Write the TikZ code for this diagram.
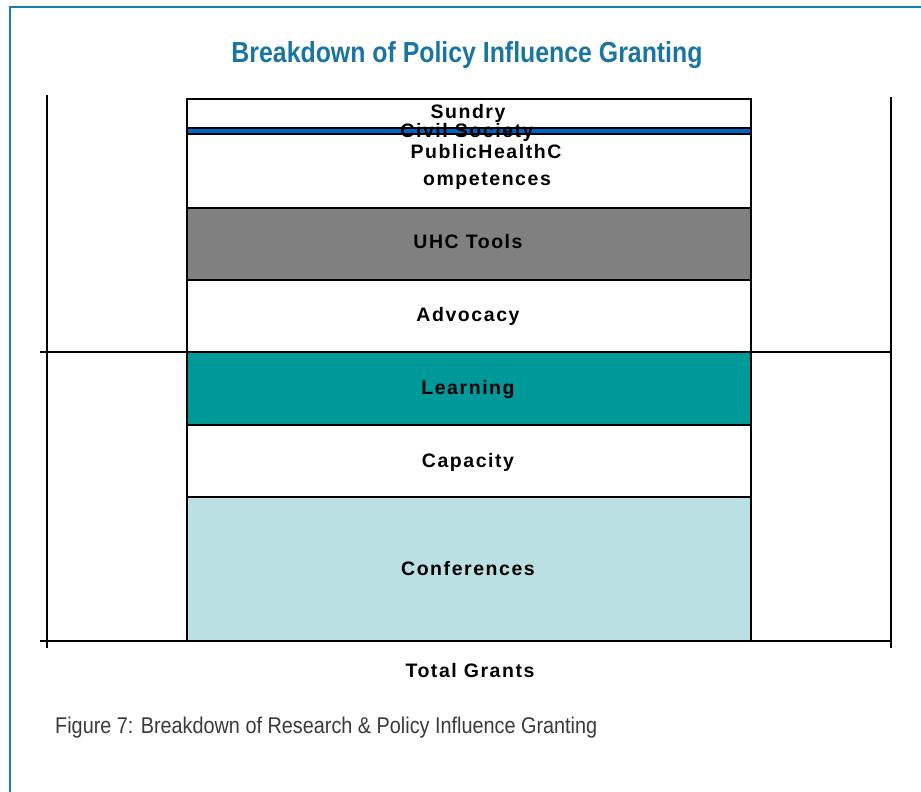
\documentclass[tikz,border=0pt]{standalone}
\usepackage{fontspec}
\setmainfont{Liberation Sans}
\newfontfamily\barfont[LetterSpace=8]{Liberation Sans}
\usepackage{xcolor}
\usetikzlibrary{positioning}

\definecolor{frameblue}{HTML}{1A7FAE}
\definecolor{titleblue}{HTML}{1A75A3}
\definecolor{civilblue}{HTML}{0063C6}
\definecolor{uhcgray}{HTML}{808080}
\definecolor{learnteal}{HTML}{009999}
\definecolor{confblue}{HTML}{BBE0E3}
\definecolor{capgray}{HTML}{3A3A3A}

\tikzset{
  barlabel/.style={anchor=base, inner sep=0pt, font=\barfont\bfseries\fontsize{19.5}{21}\selectfont},
  axisline/.style={line width=1.5pt, draw=black},
  barbox/.style={draw=black, line width=1.3pt},
}

\begin{document}
\begin{tikzpicture}[x=1pt,y=-1pt]
        \useasboundingbox (0,0) rectangle (921,792);
        % frame and title
        \draw [frameblue, line width=2.5pt] (10,792) -- (10,7) -- (921,7);
        \node [anchor=base, inner sep=0pt, text=titleblue] (title) at (467,63)
              {\resizebox{471pt}{21pt}{\bfseries Breakdown of Policy Influence Granting}};

        % axes
        \draw [axisline] (47,95) -- (47,648);
        \draw [axisline] (891,97) -- (891,648);
        \draw [axisline] (40,352) -- (891,352);
        \draw [axisline] (40,641) -- (891,641);

        % stacked bar
        \filldraw [barbox, fill=white] (187,99) rectangle (751,128);
        \filldraw [barbox, fill=civilblue] (187,128) rectangle (751,134);
        \filldraw [barbox, fill=white] (187,134) rectangle (751,208);
        \filldraw [barbox, fill=uhcgray] (187,208) rectangle (751,280);
        \filldraw [barbox, fill=white] (187,280) rectangle (751,352);
        \filldraw [barbox, fill=learnteal] (187,352) rectangle (751,425);
        \filldraw [barbox, fill=white] (187,425) rectangle (751,497);
        \filldraw [barbox, fill=confblue] (187,497) rectangle (751,641);

        \node [barlabel] (sundry) at (468,118) {Sundry};
        \node [barlabel] (civil) at (467,137) {Civil Society};
        \node [barlabel] (phc) at (486,158) {PublicHealthC};
        \node [barlabel] (phcb) at (487,185) {ompetences};
        \node [barlabel] (uhc) at (468,248) {UHC Tools};
        \node [barlabel] (advocacy) at (468,321) {Advocacy};
        \node [barlabel] (learning) at (468,394) {Learning};
        \node [barlabel] (capacity) at (468,467) {Capacity};
        \node [barlabel] (conf) at (468,575) {Conferences};

        \node [barlabel] (total) at (470,677) {Total Grants};

        % caption
        \node [anchor=base west, inner sep=0pt, text=capgray] (caption) at (55,733)
              {\resizebox{542pt}{16.5pt}{Figure 7: Breakdown of Research \& Policy Influence Granting}};
    \end{tikzpicture}
\end{document}
